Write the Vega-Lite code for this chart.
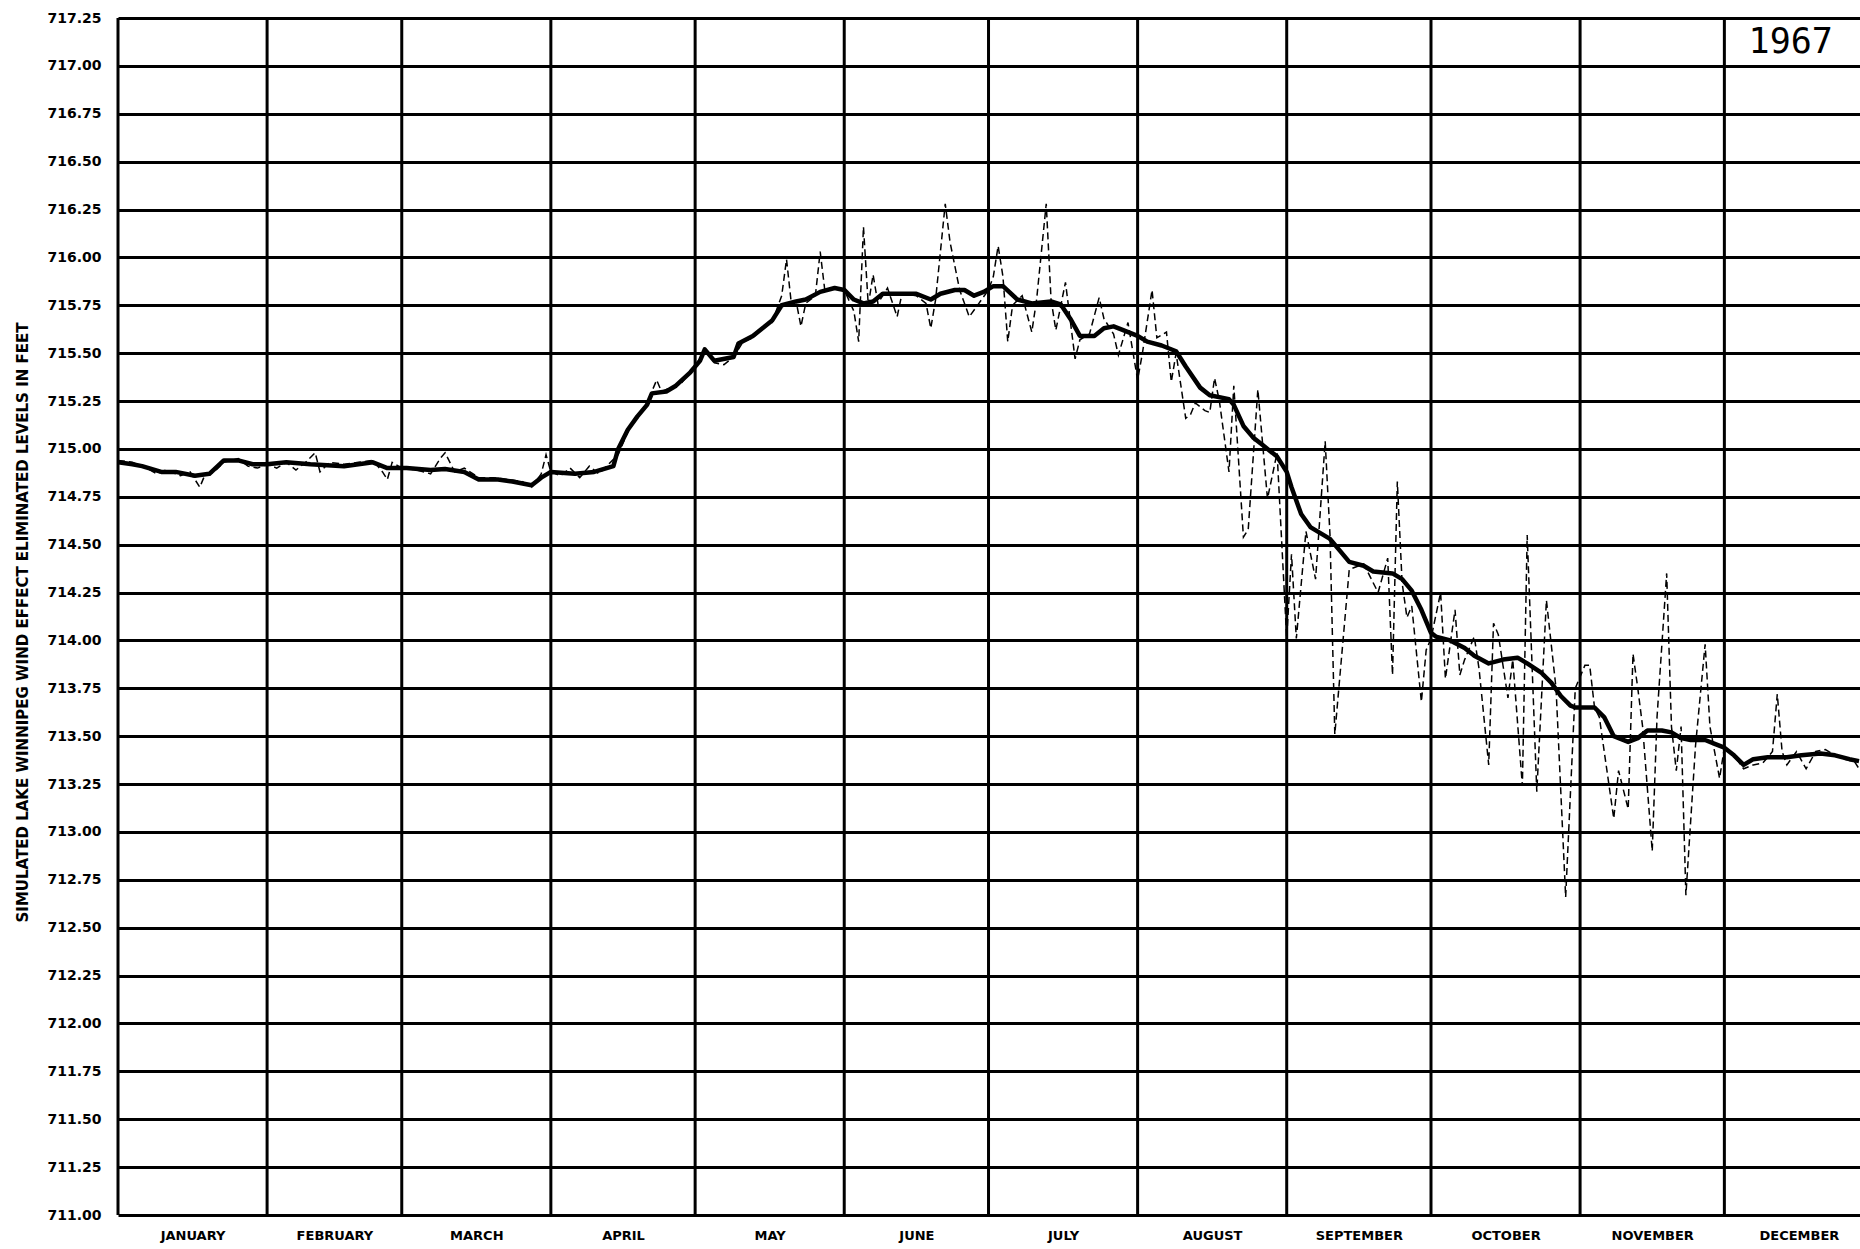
{
  "$schema": "https://vega.github.io/schema/vega-lite/v6.json",
  "autosize": {"type": "none"},
  "padding": {"left": 118, "top": 18, "right": 0, "bottom": 34},
  "width": 1742,
  "height": 1197,
  "background": "white",
  "config": {"view": {"stroke": null}},
  "datasets": {
    "smoothed": [
      {"day":0,"level":714.93},{"day":3,"level":714.92},{"day":5,"level":714.91},{"day":9,"level":714.88},{"day":12,"level":714.88},{"day":16,"level":714.86},{"day":19,"level":714.87},{"day":22,"level":714.94},{"day":25,"level":714.94},{"day":28,"level":714.92},
      {"day":31,"level":714.92},{"day":35,"level":714.93},{"day":40,"level":714.92},{"day":47,"level":714.91},{"day":53,"level":714.93},{"day":56,"level":714.90},
      {"day":60,"level":714.90},{"day":65,"level":714.89},{"day":68,"level":714.895},{"day":72,"level":714.88},{"day":75,"level":714.84},{"day":79,"level":714.84},{"day":82,"level":714.83},{"day":86,"level":714.81},{"day":88,"level":714.85},
      {"day":90,"level":714.88},{"day":95,"level":714.87},{"day":99,"level":714.88},{"day":103,"level":714.91},{"day":104,"level":715.00},{"day":106,"level":715.10},{"day":108,"level":715.17},{"day":110,"level":715.23},{"day":111,"level":715.29},{"day":114,"level":715.30},{"day":116,"level":715.33},{"day":119,"level":715.40},
      {"day":121,"level":715.46},{"day":122,"level":715.52},{"day":124,"level":715.46},{"day":128,"level":715.48},{"day":129,"level":715.55},{"day":132,"level":715.59},{"day":134,"level":715.63},{"day":136,"level":715.67},{"day":138,"level":715.75},{"day":141,"level":715.77},{"day":143,"level":715.78},{"day":146,"level":715.82},{"day":149,"level":715.84},
      {"day":151,"level":715.83},{"day":153,"level":715.78},{"day":155,"level":715.76},{"day":157,"level":715.77},{"day":159,"level":715.81},{"day":162,"level":715.81},{"day":166,"level":715.81},{"day":169,"level":715.78},{"day":171,"level":715.81},{"day":174,"level":715.83},{"day":176,"level":715.83},{"day":178,"level":715.80},{"day":180,"level":715.82},
      {"day":182,"level":715.85},{"day":184,"level":715.85},{"day":187,"level":715.78},{"day":190,"level":715.76},{"day":194,"level":715.77},{"day":196,"level":715.755},{"day":198,"level":715.68},{"day":200,"level":715.59},{"day":203,"level":715.59},{"day":205,"level":715.63},{"day":207,"level":715.64},{"day":209,"level":715.62},
      {"day":212,"level":715.59},{"day":214,"level":715.56},{"day":217,"level":715.54},{"day":220,"level":715.51},{"day":222,"level":715.43},{"day":225,"level":715.32},{"day":227,"level":715.28},{"day":231,"level":715.26},{"day":232,"level":715.23},{"day":234,"level":715.12},{"day":236,"level":715.06},{"day":238,"level":715.02},{"day":241,"level":714.96},
      {"day":243,"level":714.88},{"day":244,"level":714.80},{"day":246,"level":714.66},{"day":248,"level":714.59},{"day":250,"level":714.56},{"day":252,"level":714.53},{"day":254,"level":714.47},{"day":256,"level":714.41},{"day":259,"level":714.39},{"day":261,"level":714.36},{"day":265,"level":714.35},{"day":267,"level":714.32},{"day":269,"level":714.26},{"day":271,"level":714.16},
      {"day":273,"level":714.04},{"day":274,"level":714.02},{"day":277,"level":714.00},{"day":280,"level":713.96},{"day":282,"level":713.92},{"day":285,"level":713.88},{"day":288,"level":713.90},{"day":291,"level":713.91},{"day":293,"level":713.88},{"day":296,"level":713.83},{"day":298,"level":713.78},{"day":300,"level":713.71},{"day":302,"level":713.66},{"day":303,"level":713.65},
      {"day":305,"level":713.65},{"day":307,"level":713.65},{"day":309,"level":713.60},{"day":311,"level":713.50},{"day":314,"level":713.47},{"day":316,"level":713.49},{"day":318,"level":713.53},{"day":321,"level":713.53},{"day":323,"level":713.52},{"day":325,"level":713.49},{"day":327,"level":713.48},{"day":330,"level":713.48},{"day":332,"level":713.46},
      {"day":334,"level":713.44},{"day":336,"level":713.40},{"day":338,"level":713.35},{"day":340,"level":713.38},{"day":343,"level":713.39},{"day":347,"level":713.39},{"day":350,"level":713.40},{"day":354,"level":713.41},{"day":357,"level":713.40},{"day":360,"level":713.38},{"day":362,"level":713.37}
    ],
    "daily": [
      {"day":0,"level":714.94},{"day":3,"level":714.93},{"day":6,"level":714.90},{"day":8,"level":714.87},{"day":10,"level":714.89},{"day":13,"level":714.86},{"day":15,"level":714.88},{"day":17,"level":714.80},{"day":18,"level":714.86},{"day":20,"level":714.88},{"day":22,"level":714.93},{"day":25,"level":714.95},{"day":27,"level":714.91},{"day":29,"level":714.90},
      {"day":31,"level":714.92},{"day":33,"level":714.90},{"day":35,"level":714.93},{"day":37,"level":714.89},{"day":39,"level":714.93},{"day":41,"level":714.98},{"day":42,"level":714.88},{"day":44,"level":714.93},{"day":47,"level":714.92},{"day":50,"level":714.93},{"day":53,"level":714.94},{"day":55,"level":714.88},{"day":56,"level":714.84},{"day":57,"level":714.93},
      {"day":59,"level":714.90},{"day":62,"level":714.89},{"day":65,"level":714.87},{"day":67,"level":714.95},{"day":68,"level":714.98},{"day":70,"level":714.88},{"day":72,"level":714.90},{"day":75,"level":714.85},{"day":78,"level":714.85},{"day":81,"level":714.84},{"day":84,"level":714.83},{"day":86,"level":714.80},{"day":88,"level":714.87},{"day":89,"level":714.97},
      {"day":90,"level":714.88},{"day":92,"level":714.86},{"day":94,"level":714.90},{"day":96,"level":714.85},{"day":98,"level":714.91},{"day":100,"level":714.87},{"day":102,"level":714.92},{"day":104,"level":714.97},{"day":106,"level":715.09},{"day":108,"level":715.17},{"day":110,"level":715.24},{"day":112,"level":715.36},{"day":113,"level":715.30},{"day":115,"level":715.32},{"day":117,"level":715.34},{"day":119,"level":715.40},
      {"day":121,"level":715.47},{"day":122,"level":715.52},{"day":124,"level":715.45},{"day":126,"level":715.44},{"day":128,"level":715.48},{"day":130,"level":715.56},{"day":132,"level":715.58},{"day":134,"level":715.63},{"day":136,"level":715.66},{"day":137,"level":715.73},{"day":138,"level":715.80},{"day":139,"level":715.99},{"day":140,"level":715.76},{"day":141,"level":715.77},{"day":142,"level":715.64},{"day":143,"level":715.76},{"day":145,"level":715.80},{"day":146,"level":716.03},{"day":147,"level":715.82},{"day":149,"level":715.84},
      {"day":151,"level":715.83},{"day":153,"level":715.72},{"day":154,"level":715.56},{"day":155,"level":716.16},{"day":156,"level":715.75},{"day":157,"level":715.91},{"day":158,"level":715.76},{"day":160,"level":715.84},{"day":162,"level":715.69},{"day":163,"level":715.81},{"day":166,"level":715.80},{"day":168,"level":715.76},{"day":169,"level":715.63},{"day":170,"level":715.78},{"day":172,"level":716.28},{"day":173,"level":716.08},{"day":175,"level":715.83},{"day":177,"level":715.69},{"day":179,"level":715.76},
      {"day":181,"level":715.83},{"day":182,"level":715.90},{"day":183,"level":716.06},{"day":184,"level":715.90},{"day":185,"level":715.56},{"day":186,"level":715.75},{"day":188,"level":715.80},{"day":190,"level":715.61},{"day":191,"level":715.78},{"day":193,"level":716.28},{"day":194,"level":715.78},{"day":195,"level":715.62},{"day":197,"level":715.87},{"day":199,"level":715.47},{"day":200,"level":715.57},{"day":202,"level":715.60},{"day":204,"level":715.79},{"day":205,"level":715.68},{"day":207,"level":715.60},{"day":208,"level":715.49},{"day":210,"level":715.66},
      {"day":212,"level":715.36},{"day":213,"level":715.50},{"day":215,"level":715.83},{"day":216,"level":715.58},{"day":218,"level":715.61},{"day":219,"level":715.35},{"day":220,"level":715.50},{"day":222,"level":715.16},{"day":223,"level":715.18},{"day":224,"level":715.24},{"day":226,"level":715.20},{"day":227,"level":715.19},{"day":228,"level":715.37},{"day":229,"level":715.25},{"day":231,"level":714.88},{"day":232,"level":715.33},{"day":234,"level":714.54},{"day":235,"level":714.58},{"day":237,"level":715.31},{"day":239,"level":714.74},{"day":241,"level":714.98},
      {"day":243,"level":714.01},{"day":244,"level":714.45},{"day":245,"level":714.01},{"day":247,"level":714.57},{"day":249,"level":714.32},{"day":251,"level":715.04},{"day":252,"level":714.55},{"day":253,"level":713.51},{"day":256,"level":714.37},{"day":259,"level":714.40},{"day":262,"level":714.25},{"day":264,"level":714.43},{"day":265,"level":713.82},{"day":266,"level":714.83},{"day":267,"level":714.30},{"day":268,"level":714.12},{"day":269,"level":714.18},{"day":271,"level":713.68},{"day":272,"level":713.95},
      {"day":273,"level":714.01},{"day":275,"level":714.25},{"day":276,"level":713.80},{"day":278,"level":714.16},{"day":279,"level":713.82},{"day":280,"level":713.90},{"day":282,"level":714.02},{"day":283,"level":713.85},{"day":285,"level":713.35},{"day":286,"level":714.09},{"day":287,"level":714.03},{"day":289,"level":713.70},{"day":290,"level":713.90},{"day":292,"level":713.24},{"day":293,"level":714.55},{"day":295,"level":713.21},{"day":297,"level":714.21},{"day":299,"level":713.75},{"day":301,"level":712.66},{"day":303,"level":713.75},
      {"day":305,"level":713.87},{"day":306,"level":713.87},{"day":307,"level":713.65},{"day":308,"level":713.60},{"day":311,"level":713.07},{"day":312,"level":713.32},{"day":314,"level":713.12},{"day":315,"level":713.93},{"day":316,"level":713.75},{"day":317,"level":713.55},{"day":319,"level":712.90},{"day":320,"level":713.60},{"day":322,"level":714.35},{"day":323,"level":713.55},{"day":324,"level":713.32},{"day":325,"level":713.55},{"day":326,"level":712.67},{"day":328,"level":713.45},{"day":330,"level":713.98},{"day":331,"level":713.55},{"day":333,"level":713.28},
      {"day":334,"level":713.44},{"day":336,"level":713.40},{"day":338,"level":713.33},{"day":340,"level":713.35},{"day":342,"level":713.36},{"day":344,"level":713.42},{"day":345,"level":713.72},{"day":346,"level":713.42},{"day":347,"level":713.35},{"day":349,"level":713.42},{"day":351,"level":713.33},{"day":353,"level":713.42},{"day":355,"level":713.43},{"day":357,"level":713.40},{"day":359,"level":713.38},{"day":361,"level":713.37},{"day":362,"level":713.33}
    ],
    "months": [
      {"day":0},{"day":31},{"day":59},{"day":90},{"day":120},{"day":151},{"day":181},{"day":212},{"day":243},{"day":273},{"day":304},{"day":334}
    ],
    "yearLabel": [
      {"day":347.8,"level":717.127,"text":"1967"}
    ]
  },
  "encoding": {
    "x": {
      "field": "day",
      "type": "quantitative",
      "scale": {"domain": [0, 362.2], "nice": false, "zero": false},
      "axis": {
        "orient": "bottom",
        "title": null,
        "values": [15.5,45,74.5,105,135.5,166,196.5,227.5,258,288.5,319,349.5],
        "labelExpr": "['JANUARY','FEBRUARY','MARCH','APRIL','MAY','JUNE','JULY','AUGUST','SEPTEMBER','OCTOBER','NOVEMBER','DECEMBER'][indexof([15.5,45,74.5,105,135.5,166,196.5,227.5,258,288.5,319,349.5], datum.value)]",
        "grid": false,
        "ticks": false,
        "domain": false,
        "labelPadding": 14,
        "labelFont": "DejaVu Sans",
        "labelFontWeight": "bold",
        "labelFontSize": 13,
        "labelColor": "black",
        "labelOverlap": false,
        "labelFlush": false,
        "labelBound": false
      }
    }
  },
  "layer": [
    {
      "data": {"name": "months"},
      "mark": {"type": "rule", "color": "black", "strokeWidth": 3},
      "encoding": {}
    },
    {
      "data": {"name": "daily"},
      "mark": {"type": "line", "color": "black", "strokeWidth": 1.5, "strokeDash": [7, 4], "clip": true},
      "encoding": {
        "y": {
          "field": "level", "type": "quantitative",
          "scale": {"domain": [711, 717.25], "nice": false, "zero": false},
          "axis": {
            "title": "SIMULATED LAKE WINNIPEG WIND EFFECT ELIMINATED LEVELS IN FEET",
            "values": [711,711.25,711.5,711.75,712,712.25,712.5,712.75,713,713.25,713.5,713.75,714,714.25,714.5,714.75,715,715.25,715.5,715.75,716,716.25,716.5,716.75,717,717.25],
            "format": ".2f",
            "grid": true, "gridColor": "black", "gridWidth": 3, "gridOpacity": 1,
            "ticks": false, "domain": false,
            "labelPadding": 17, "labelFont": "DejaVu Sans", "labelFontWeight": "bold", "labelFontSize": 14, "labelColor": "black",
            "labelOverlap": false, "labelFlush": false, "labelBound": false,
            "titleFont": "DejaVu Sans", "titleFontWeight": "bold", "titleFontSize": 15, "titleColor": "black",
            "titleAngle": 270, "titleAlign": "center", "titleBaseline": "middle", "titleX": -96, "titleY": 604
          }
        }
      }
    },
    {
      "data": {"name": "smoothed"},
      "mark": {"type": "line", "color": "black", "strokeWidth": 4.5, "strokeJoin": "round", "clip": true},
      "encoding": {
        "y": {
          "field": "level", "type": "quantitative",
          "scale": {"domain": [711, 717.25], "nice": false, "zero": false},
          "axis": {
            "title": "SIMULATED LAKE WINNIPEG WIND EFFECT ELIMINATED LEVELS IN FEET",
            "values": [711,711.25,711.5,711.75,712,712.25,712.5,712.75,713,713.25,713.5,713.75,714,714.25,714.5,714.75,715,715.25,715.5,715.75,716,716.25,716.5,716.75,717,717.25],
            "format": ".2f",
            "grid": true, "gridColor": "black", "gridWidth": 3, "gridOpacity": 1,
            "ticks": false, "domain": false,
            "labelPadding": 17, "labelFont": "DejaVu Sans", "labelFontWeight": "bold", "labelFontSize": 14, "labelColor": "black",
            "labelOverlap": false, "labelFlush": false, "labelBound": false,
            "titleFont": "DejaVu Sans", "titleFontWeight": "bold", "titleFontSize": 15, "titleColor": "black",
            "titleAngle": 270, "titleAlign": "center", "titleBaseline": "middle", "titleX": -96, "titleY": 604
          }
        }
      }
    },
    {
      "data": {"name": "yearLabel"},
      "mark": {"type": "text", "font": "DejaVu Sans Mono", "fontSize": 35, "color": "black", "align": "center", "baseline": "middle"},
      "encoding": {
        "y": {
          "field": "level", "type": "quantitative",
          "scale": {"domain": [711, 717.25], "nice": false, "zero": false},
          "axis": {
            "title": "SIMULATED LAKE WINNIPEG WIND EFFECT ELIMINATED LEVELS IN FEET",
            "values": [711,711.25,711.5,711.75,712,712.25,712.5,712.75,713,713.25,713.5,713.75,714,714.25,714.5,714.75,715,715.25,715.5,715.75,716,716.25,716.5,716.75,717,717.25],
            "format": ".2f",
            "grid": true, "gridColor": "black", "gridWidth": 3, "gridOpacity": 1,
            "ticks": false, "domain": false,
            "labelPadding": 17, "labelFont": "DejaVu Sans", "labelFontWeight": "bold", "labelFontSize": 14, "labelColor": "black",
            "labelOverlap": false, "labelFlush": false, "labelBound": false,
            "titleFont": "DejaVu Sans", "titleFontWeight": "bold", "titleFontSize": 15, "titleColor": "black",
            "titleAngle": 270, "titleAlign": "center", "titleBaseline": "middle", "titleX": -96, "titleY": 604
          }
        },
        "text": {"field": "text", "type": "nominal"}
      }
    }
  ]
}
